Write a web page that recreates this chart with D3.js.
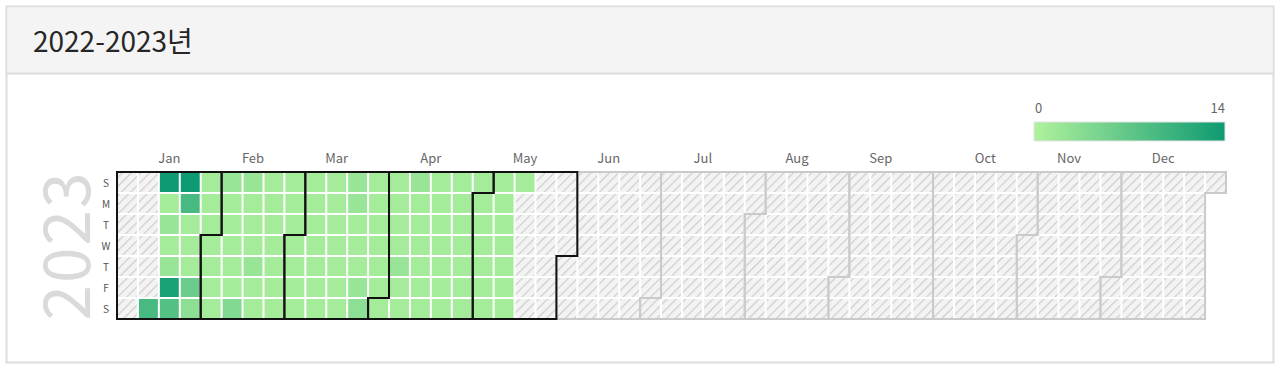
<!DOCTYPE html>
<html><head><meta charset="utf-8">
<script src="https://cdn.jsdelivr.net/npm/d3@7"></script>
<style>html,body{margin:0;padding:0;background:#fff;}svg{display:block;font-family:"Noto Sans CJK KR","Noto Sans",sans-serif;}</style>
</head><body><svg id="chart" width="1280" height="370"></svg>
<script>
const title = "2022-2023년";
const year = 2023;
const startDate = "2023-01-14";
// daily counts from startDate, grouped by week (Sun..Sat)
const counts = [
  9,
  14,1,2,1,2,13,8,
  14,9,1,1,1,6,3,
  1,1,1,1,1,1,1,
  2,1,1,1,1,1,4,
  2,1,1,1,2,1,1,
  1,1,1,1,1,1,1,
  1,1,1,1,1,1,1,
  1,1,1,1,1,1,1,
  1,1,1,1,1,1,1,
  2,2,1,1,1,2,3,
  1,1,1,1,1,1,1,
  1,1,1,1,2,1,1,
  2,1,1,1,1,1,1,
  1,1,1,1,1,1,1,
  1,1,1,1,1,1,1,
  1,1,1,1,1,1,1,
  1,1,1,1,1,1,1,
  1
];
const dayLabels = ["S","M","T","W","T","F","S"];
const monthLabels = ["Jan","Feb","Mar","Apr","May","Jun","Jul","Aug","Sep","Oct","Nov","Dec"];
const legendDomain = [0, 14];
const colorRange = ["#b0f29d", "#0e9a72"];

const svg = d3.select("#chart");
const fmt = d3.timeFormat("%Y-%m-%d");
const parse = d3.timeParse("%Y-%m-%d");
const start = parse(startDate);
const valueByDate = new Map();
counts.forEach((v, i) => valueByDate.set(fmt(d3.timeDay.offset(start, i)), v));

// panel
svg.append("rect").attr("x",6.5).attr("y",6.5).attr("width",1267).attr("height",356)
  .attr("fill","#fff").attr("stroke","#dcdcdc").attr("stroke-width",2);
svg.append("rect").attr("x",7.5).attr("y",7.5).attr("width",1265).attr("height",65.5).attr("fill","#f4f4f4");
svg.append("line").attr("x1",7).attr("x2",1273).attr("y1",73.5).attr("y2",73.5).attr("stroke","#dcdcdc").attr("stroke-width",2);
svg.append("text").attr("x",33).attr("y",52).attr("font-size",28).attr("fill","#262626").text(title);

// defs: hatch pattern & gradient
const defs = svg.append("defs");
const pat = defs.append("pattern").attr("id","hatch").attr("patternUnits","userSpaceOnUse")
  .attr("width",6.5).attr("height",6.5).attr("patternTransform","rotate(45)");
pat.append("rect").attr("width",6.5).attr("height",6.5).attr("fill","#f3f3f3");
pat.append("line").attr("x1",0).attr("y1",0).attr("x2",0).attr("y2",6.5).attr("stroke","#cdcdcd").attr("stroke-width",2.4);
const grad = defs.append("linearGradient").attr("id","lg");
grad.append("stop").attr("offset","0%").attr("stop-color",colorRange[0]);
grad.append("stop").attr("offset","100%").attr("stop-color",colorRange[1]);

const color = d3.scaleLinear().domain(legendDomain).range(colorRange);
const x = d3.scaleLinear().domain([0,53]).range([117,1226]);
const y = d3.scaleLinear().domain([0,7]).range([172,319]);
const yearStart = new Date(year,0,1);
const days = d3.timeDays(yearStart, new Date(year+1,0,1));
const wk = d => d3.timeSunday.count(yearStart, d);

// year label
svg.append("text").attr("transform",`translate(62,${(y(0)+y(7))/2}) rotate(-90)`)
  .attr("text-anchor","middle").attr("dominant-baseline","central")
  .attr("font-size",64).attr("font-weight",400).attr("fill","#dadada").attr("letter-spacing",2).text(year);

// day labels
svg.append("g").selectAll("text").data(dayLabels).join("text")
  .attr("x",106).attr("y",(d,i)=>(y(i)+y(i+1))/2).attr("text-anchor","middle")
  .attr("dominant-baseline","central").attr("font-size",10).attr("fill","#555").text(d=>d);

// cells
svg.append("g").selectAll("rect").data(days).join("rect")
  .attr("x", d => x(wk(d)) + 1).attr("y", d => y(d.getDay()) + 1)
  .attr("width", x(1)-x(0)-2).attr("height", y(1)-y(0)-2)
  .attr("fill", d => valueByDate.has(fmt(d)) ? color(valueByDate.get(fmt(d))) : "url(#hatch)");

// month outlines and labels
const months = d3.timeMonths(yearStart, new Date(year+1,0,1));
function monthPath(m) {
  const t0 = m, t1 = d3.timeDay.offset(d3.timeMonth.offset(m,1), -1);
  const w0 = wk(t0), d0 = t0.getDay(), w1 = wk(t1), d1 = t1.getDay();
  return `M${x(w0)},${y(d0)}H${x(w0+1)}V${y(0)}H${x(w1+1)}V${y(d1+1)}H${x(w1)}V${y(7)}H${x(w0)}Z`;
}
const hasData = m => counts.some((v,i)=>d3.timeMonth.floor(d3.timeDay.offset(start,i)).getTime()===m.getTime());
const og = svg.append("g").attr("fill","none").attr("stroke-linejoin","miter");
og.selectAll("path.g").data(months.filter(m=>!hasData(m))).join("path")
  .attr("d",monthPath).attr("stroke","#cacaca").attr("stroke-width",2);
og.selectAll("path.b").data(months.filter(hasData)).join("path")
  .attr("d",monthPath).attr("stroke","#111").attr("stroke-width",2);

svg.append("g").selectAll("text").data(months).join("text")
  .attr("x", m => { const t1 = d3.timeDay.offset(d3.timeMonth.offset(m,1),-1); return (x(wk(m)) + x(wk(t1)+1))/2; })
  .attr("y",163).attr("text-anchor","middle").attr("font-size",13).attr("fill","#666")
  .text((m,i)=>monthLabels[i]);

// legend
const lx = d3.scaleLinear().domain(legendDomain).range([1034,1225]);
svg.append("rect").attr("x",lx(0)).attr("y",122).attr("width",lx(14)-lx(0)).attr("height",19)
  .attr("fill","url(#lg)").attr("stroke","#e4e4e4").attr("stroke-width",1);
svg.append("text").attr("x",lx(0)+1).attr("y",113).attr("font-size",13).attr("fill","#666").text(legendDomain[0]);
svg.append("text").attr("x",lx(14)).attr("y",113).attr("text-anchor","end").attr("font-size",13).attr("fill","#666").text(legendDomain[1]);
</script></body></html>
